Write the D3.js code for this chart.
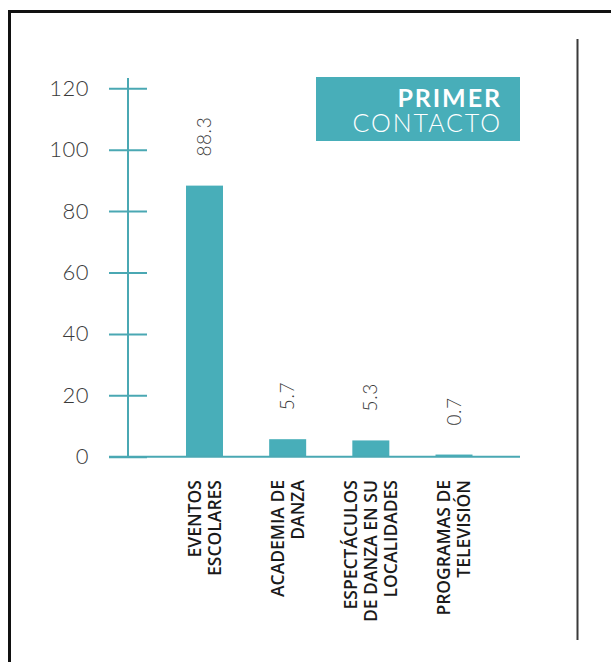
<!DOCTYPE html>
<html>
<head>
<meta charset="utf-8">
<script src="https://cdn.jsdelivr.net/npm/d3@7"></script>
<style>
  html, body { margin: 0; padding: 0; background: #fff; }
  svg { display: block; }
</style>
</head>
<body>
<svg id="chart" width="611" height="662"></svg>
<script>
// Primer contacto con la danza (%)
const categories = [
  ["EVENTOS", "ESCOLARES"],
  ["ACADEMIA DE", "DANZA"],
  ["ESPECTÁCULOS", "DE DANZA EN SU", "LOCALIDADES"],
  ["PROGRAMAS DE", "TELEVISIÓN"]
];
const values = [88.3, 5.7, 5.3, 0.7];
const valueLabels = ["88.3", "5.7", "5.3", "0.7"];
const yTicks = [0, 20, 40, 60, 80, 100, 120];
const titleLines = ["PRIMER", "CONTACTO"];

const teal = "#48aeb9";
const axisColor = "#4aa8b3";
const textColor = "#3a3a3a";

const svg = d3.select("#chart");
svg.append("rect").attr("width", 611).attr("height", 662).attr("fill", "#fff");

// frame
svg.append("rect")
  .attr("x", 9.5).attr("y", 11.5).attr("width", 700).attr("height", 700)
  .attr("fill", "none").attr("stroke", "#111").attr("stroke-width", 3);
svg.append("line")
  .attr("x1", 577.5).attr("x2", 577.5).attr("y1", 39).attr("y2", 640)
  .attr("stroke", "#3a3a3a").attr("stroke-width", 2);

const keys = categories.map(c => c.join(" "));
const y = d3.scaleLinear().domain([0, 120]).range([456.7, 88.3]);
const x = d3.scalePoint().domain(keys).range([204.5, 454]);
const barW = 37;
const axisX = 128;

// y axis
const yAxis = svg.append("g")
  .attr("transform", `translate(${axisX},0)`)
  .call(d3.axisLeft(y).tickValues(yTicks).tickSize(19).tickPadding(20));
yAxis.select(".domain").remove();
yAxis.selectAll(".tick line")
  .attr("x1", -19).attr("x2", 19)
  .attr("stroke", axisColor).attr("stroke-width", 2);
yAxis.selectAll(".tick text")
  .attr("fill", textColor)
  .style("font-family", "Lato, sans-serif")
  .style("font-weight", 300)
  .style("font-size", "22px")
  .style("letter-spacing", "0.5px");
yAxis.append("line")
  .attr("x1", 0).attr("x2", 0).attr("y1", 78).attr("y2", y(0))
  .attr("stroke", axisColor).attr("stroke-width", 2);

// bars
svg.append("g").selectAll("rect")
  .data(values)
  .join("rect")
  .attr("x", (d, i) => x(keys[i]) - barW / 2)
  .attr("width", barW)
  .attr("y", d => y(d))
  .attr("height", d => y(0) - y(d))
  .attr("fill", teal);

// baseline
svg.append("line")
  .attr("x1", axisX - 19).attr("x2", 520)
  .attr("y1", y(0)).attr("y2", y(0))
  .attr("stroke", axisColor).attr("stroke-width", 2);

// value labels
svg.append("g").selectAll("text")
  .data(values)
  .join("text")
  .attr("transform", (d, i) => `translate(${x(keys[i])},${y(d) - 29}) rotate(-90)`)
  .attr("dy", "0.35em")
  .attr("fill", textColor)
  .style("font-family", "Lato, sans-serif")
  .style("font-weight", 300)
  .style("font-size", "19px")
  .style("letter-spacing", "0.6px")
  .text((d, i) => valueLabels[i]);

// category labels
const catG = svg.append("g");
categories.forEach((lines, i) => {
  const cx = x(keys[i]);
  const lineGap = 20;
  lines.forEach((t, j) => {
    const off = (j - (lines.length - 1) / 2) * lineGap;
    catG.append("text")
      .attr("transform", `translate(${cx + off},480) rotate(-90)`)
      .attr("dy", "0.36em")
      .attr("text-anchor", "end")
      .attr("fill", "#1a1a1a")
      .style("font-family", "'Open Sans', sans-serif")
      .style("font-weight", 600)
      .style("font-size", "17.5px")
      .text(t);
  });
});

// title box
svg.append("rect")
  .attr("x", 316).attr("y", 77).attr("width", 204).attr("height", 64)
  .attr("fill", teal);
const title = svg.append("text")
  .attr("text-anchor", "end").attr("fill", "#fff")
  .style("font-family", "Lato, sans-serif")
  .style("font-size", "25px").style("letter-spacing", "1.9px");
title.append("tspan")
  .attr("x", 501.9).attr("y", 107.3)
  .style("font-weight", 700)
  .text(titleLines[0]);
title.append("tspan")
  .attr("x", 501.9).attr("y", 131.7)
  .style("font-weight", 300)
  .text(titleLines[1]);
</script>
</body>
</html>
